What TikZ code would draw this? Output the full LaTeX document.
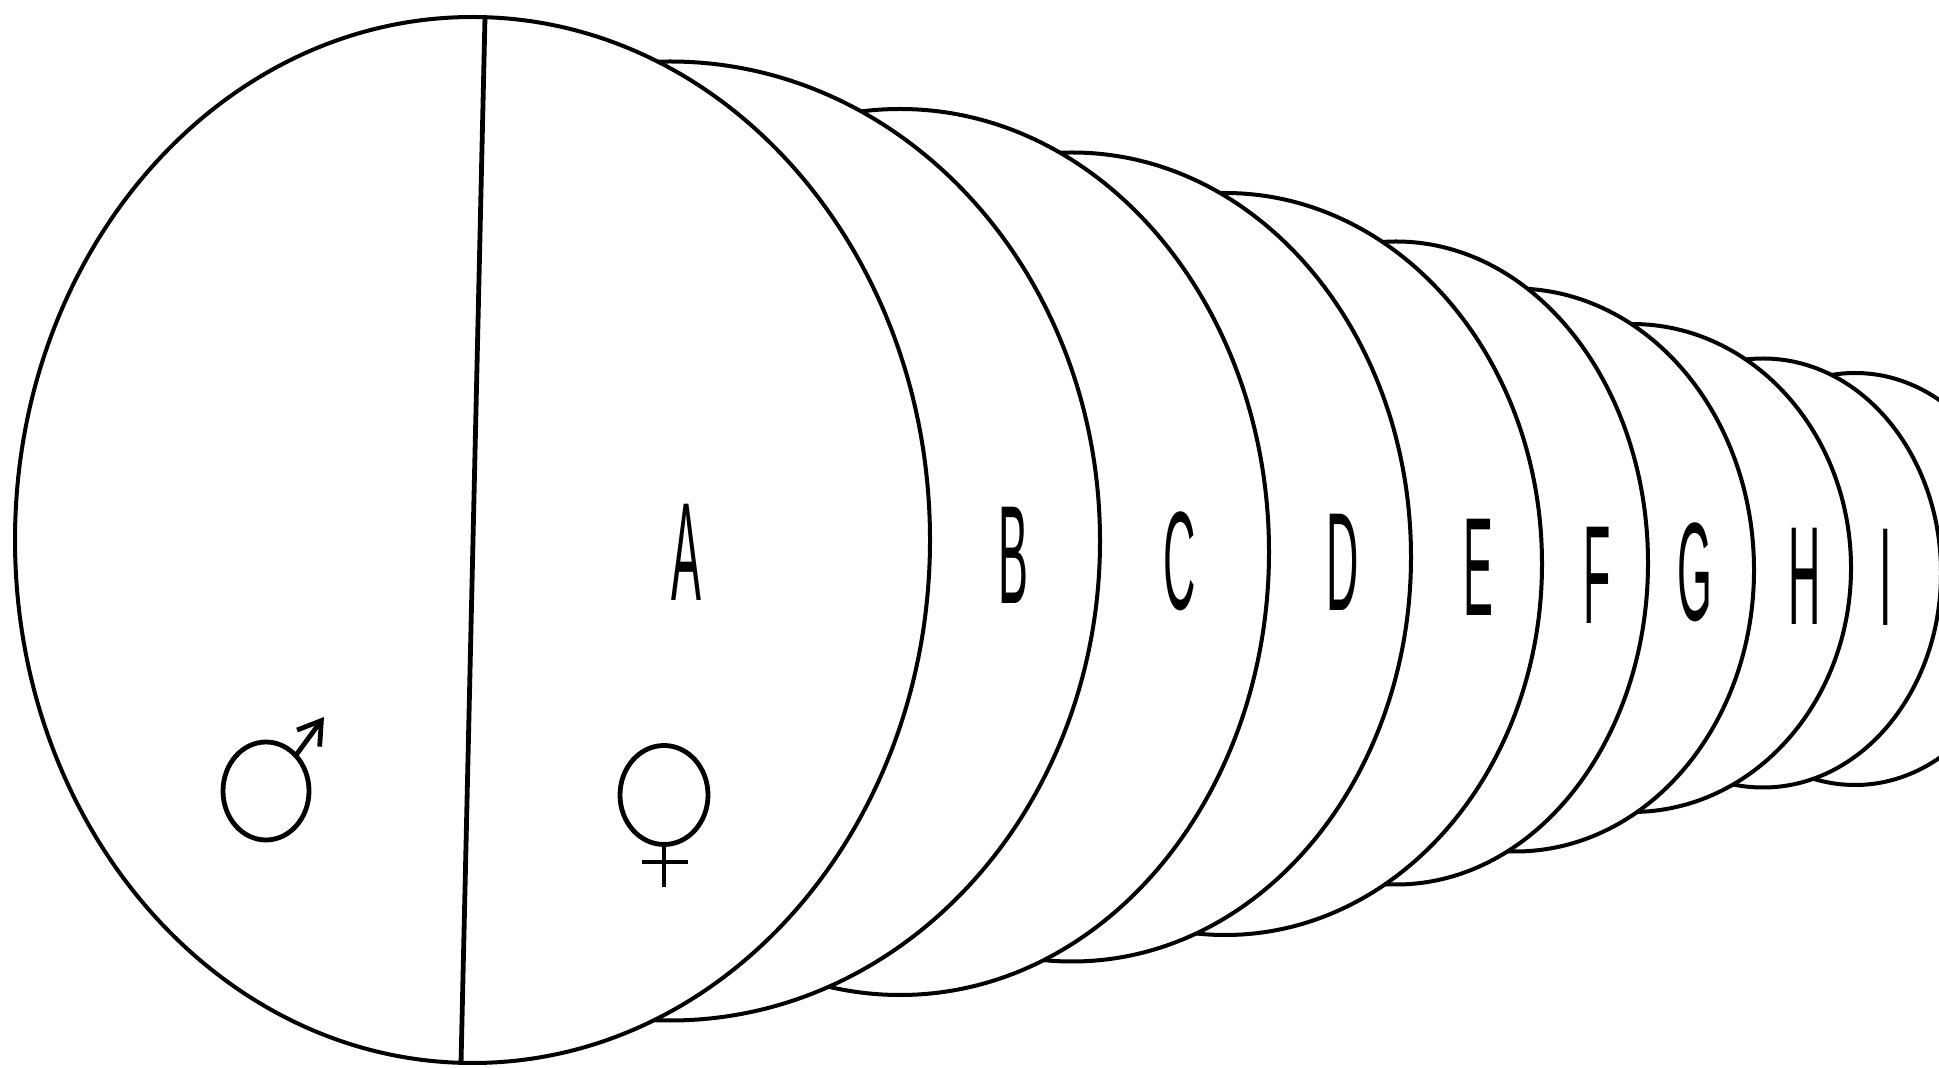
\documentclass[tikz,border=0pt]{standalone}
\usepackage{fontspec}
\setsansfont{Liberation Sans}
\usetikzlibrary{shapes.geometric, arrows.meta}

\begin{document}
\begin{tikzpicture}[
        x=0.5pt, y=-0.5pt,
        disc/.style={ellipse, draw, fill=white, line width=2pt, inner sep=0pt, outer sep=0pt},
        letter/.style={inner sep=0pt, font=\sffamily\fontsize{70}{70}\selectfont, xscale=0.32, transform shape},
        ring/.style={ellipse, draw, line width=2.4pt, inner sep=0pt, outer sep=0pt},
        stroke/.style={line width=2.4pt}
    ]
        \clip (0, 0) rectangle (1939, 1068);
        \fill[white] (0, 0) rectangle (1939, 1068);

        % Discs, back to front
        \node[disc, minimum width=170pt, minimum height=206pt] (discJ) at (1855, 579) {};
        \node[disc, minimum width=178pt, minimum height=214.5pt] (discI) at (1763, 573) {};
        \node[disc, minimum width=219pt, minimum height=244pt] (discH) at (1632, 568) {};
        \node[disc, minimum width=239pt, minimum height=281.5pt] (discG) at (1515, 570) {};
        \node[disc, minimum width=252pt, minimum height=321.5pt] (discF) at (1396, 563) {};
        \node[disc, minimum width=317pt, minimum height=371pt] (discE) at (1225, 564) {};
        \node[disc, minimum width=339pt, minimum height=404.5pt] (discD) at (1072, 557) {};
        \node[disc, minimum width=369pt, minimum height=443pt] (discC) at (900, 552) {};
        \node[disc, minimum width=430pt, minimum height=479.5pt] (discB) at (670, 541) {};
        \node[disc, minimum width=457.5pt, minimum height=523pt] (discA) at (472.5, 540) {};

        % Divider
        \coordinate (top) at (485, 17);
        \coordinate (bottom) at (461, 1064);
        \draw[stroke] (top) -- (bottom);

        % Letters
        \node[letter] (labA) at (686, 552) {A};
        \node[letter] (labB) at (1013, 555) {B};
        \node[letter] (labC) at (1180, 561) {C};
        \node[letter] (labD) at (1343, 562) {D};
        \node[letter] (labE) at (1478, 567) {E};
        \node[letter] (labF) at (1597, 575) {F};
        \node[letter] (labG) at (1695, 572) {G};
        \node[letter] (labH) at (1805, 576) {H};
        \node[letter] (labI) at (1886, 577) {I};

        % Male sign
        \node[ring, minimum width=43pt, minimum height=49pt] (male) at (266, 791) {};
        \coordinate (maleTip) at (324, 717);
        \draw[stroke, -{Straight Barb[length=11pt, width=14pt]}] (male.50) -- (maleTip);

        % Female sign
        \node[ring, minimum width=44pt, minimum height=49.5pt] (female) at (664, 795) {};
        \coordinate (femaleTail) at (664, 887);
        \coordinate (barLeft) at (642, 862);
        \coordinate (barRight) at (688, 862);
        \draw[stroke] (female.south) -- (femaleTail);
        \draw[stroke] (barLeft) -- (barRight);
    \end{tikzpicture}
\end{document}
